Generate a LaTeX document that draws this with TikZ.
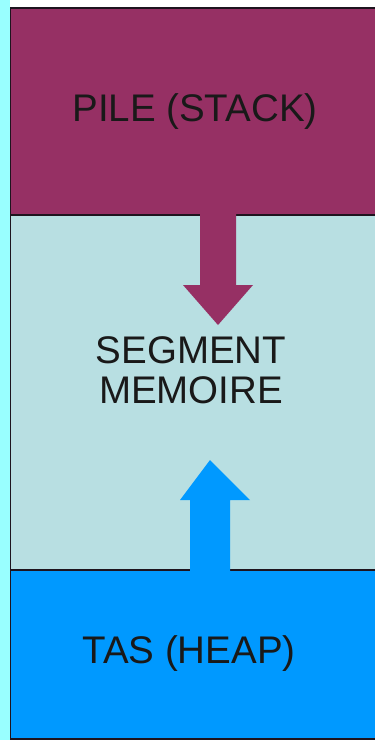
\documentclass[tikz,border=0pt]{standalone}
\usepackage{fontspec}
\setmainfont{Liberation Sans}
\definecolor{stackcol}{RGB}{150,48,100}
\definecolor{segcol}{RGB}{184,223,226}
\definecolor{heapcol}{RGB}{0,153,255}
\definecolor{stripcol}{RGB}{153,255,255}
\definecolor{edgecol}{RGB}{30,20,30}
\tikzset{
  region/.style={draw=edgecol, line width=1.3pt, inner sep=0pt, outer sep=0pt},
  label/.style={text=black!90, font=\fontsize{38.5}{40}\selectfont, align=center, inner sep=0pt},
}
\begin{document}
\begin{tikzpicture}[x=1pt,y=-1pt]
  \useasboundingbox (0,0) rectangle (375,740);
  \fill[white] (0,0) rectangle (375,740);
  % left strip
  \fill[stripcol] (0,0) rectangle (10,740);
  % three memory regions
  \path[region, fill=segcol] (10.6,215) rectangle (376,570);
  \path[region, fill=stackcol] (10.6,8) rectangle (376,215);
  \path[region, fill=heapcol] (10.6,570) rectangle (376,739);
  \coordinate (stackBot) at (218,214);
  \coordinate (heapTop) at (210,571);
  % stack grows downward
  \fill[stackcol] (stackBot) ++(-18,0) -- ++(0,71) -- ++(-17,0) -- (218,325) -- (253,285) -- (236,285) -- (236,214) -- cycle;
  % heap grows upward
  \fill[heapcol] (heapTop) ++(-20,0) -- ++(0,-71) -- ++(-10,0) -- (210,460) -- (250,500) -- (230,500) -- (230,571) -- cycle;
  % labels
  \node[label] (stack) at (195,112) {PILE (STACK)};
  \node[label] (seg) at (191,370) {SEGMENT\\MEMOIRE};
  \node[label] (heap) at (189,654) {TAS (HEAP)};
\end{tikzpicture}
\end{document}
